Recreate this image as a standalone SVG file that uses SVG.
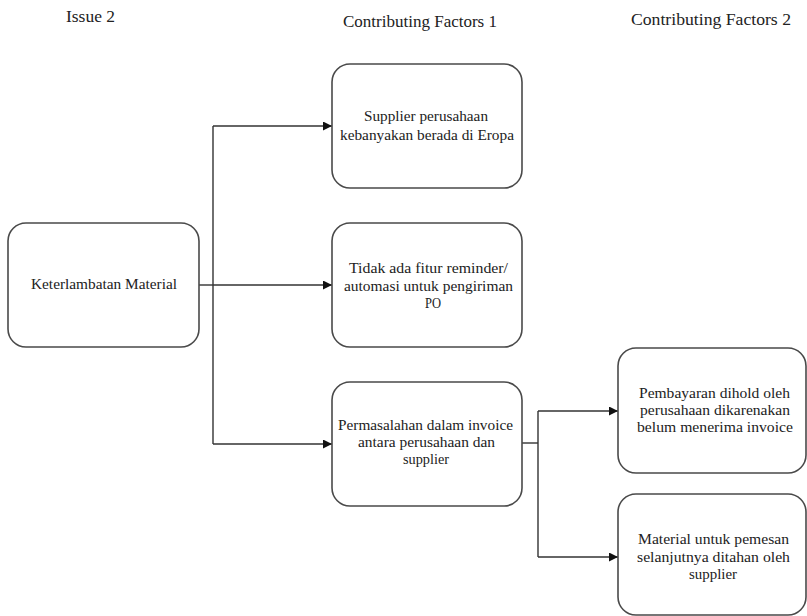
<svg xmlns="http://www.w3.org/2000/svg" width="807" height="616" viewBox="0 0 807 616">
  <style>
    .box { fill: #ffffff; stroke: #4a4a4a; stroke-width: 1.6; }
    .wire { fill: none; stroke: #333333; stroke-width: 1.4; }
    text { fill: #222222; text-anchor: middle; }
  </style>
  <defs>
    <marker id="arrow" viewBox="0 0 10 10" refX="10" refY="5" markerWidth="9" markerHeight="9" markerUnits="userSpaceOnUse" orient="auto">
      <path d="M0,0 L10,5 L0,10 z" fill="#111111"/>
    </marker>
  </defs>
  <rect width="807" height="616" fill="#ffffff"/>

  <!-- column headers -->
  <g id="headers" font-family="'Liberation Serif', serif" font-size="16">
    <text x="90.5" y="22" textLength="49" lengthAdjust="spacingAndGlyphs">Issue 2</text>
    <text x="420" y="27" textLength="154" lengthAdjust="spacingAndGlyphs">Contributing Factors 1</text>
    <text x="711" y="25" textLength="160" lengthAdjust="spacingAndGlyphs">Contributing Factors 2</text>
  </g>

  <!-- connectors -->
  <g id="connectors">
    <path class="wire" d="M199,285 H213"/>
    <path class="wire" d="M213,126 V444"/>
    <path class="wire" marker-end="url(#arrow)" d="M213,126 H332"/>
    <path class="wire" marker-end="url(#arrow)" d="M213,285 H332"/>
    <path class="wire" marker-end="url(#arrow)" d="M213,444 H332"/>
    <path class="wire" d="M522,443 H538"/>
    <path class="wire" d="M538,411 V557"/>
    <path class="wire" marker-end="url(#arrow)" d="M538,411 H618"/>
    <path class="wire" marker-end="url(#arrow)" d="M538,557 H618"/>
  </g>

  <g id="issue" font-family="'Liberation Serif', serif" font-size="15">
    <rect class="box" x="8" y="223" width="191" height="124" rx="18"/>
    <text x="104" y="289" textLength="146" lengthAdjust="spacingAndGlyphs">Keterlambatan Material</text>
  </g>

  <g id="factor1a" font-family="'Liberation Serif', serif" font-size="15">
    <rect class="box" x="332" y="64" width="190" height="124" rx="18"/>
    <text x="426" y="121" textLength="124" lengthAdjust="spacingAndGlyphs">Supplier perusahaan</text>
    <text x="427" y="140" textLength="174" lengthAdjust="spacingAndGlyphs">kebanyakan berada di Eropa</text>
  </g>

  <g id="factor1b" font-family="'Liberation Serif', serif" font-size="15">
    <rect class="box" x="332" y="223" width="190" height="124" rx="18"/>
    <text x="428.5" y="273" textLength="159" lengthAdjust="spacingAndGlyphs">Tidak ada fitur reminder/</text>
    <text x="428.5" y="291" textLength="169" lengthAdjust="spacingAndGlyphs">automasi untuk pengiriman</text>
    <text x="433" y="308" textLength="16" lengthAdjust="spacingAndGlyphs">PO</text>
  </g>

  <g id="factor1c" font-family="'Liberation Serif', serif" font-size="15">
    <rect class="box" x="332" y="382" width="190" height="124" rx="18"/>
    <text x="425.5" y="430" textLength="175" lengthAdjust="spacingAndGlyphs">Permasalahan dalam invoice</text>
    <text x="426.5" y="447" textLength="137" lengthAdjust="spacingAndGlyphs">antara perusahaan dan</text>
    <text x="426" y="464" textLength="46" lengthAdjust="spacingAndGlyphs">supplier</text>
  </g>

  <g id="factor2a" font-family="'Liberation Serif', serif" font-size="15">
    <rect class="box" x="618" y="348" width="188" height="125" rx="18"/>
    <text x="714.5" y="398" textLength="151" lengthAdjust="spacingAndGlyphs">Pembayaran dihold oleh</text>
    <text x="715" y="415" textLength="150" lengthAdjust="spacingAndGlyphs">perusahaan dikarenakan</text>
    <text x="715" y="432" textLength="156" lengthAdjust="spacingAndGlyphs">belum menerima invoice</text>
  </g>

  <g id="factor2b" font-family="'Liberation Serif', serif" font-size="15">
    <rect class="box" x="618" y="494" width="188" height="121" rx="18"/>
    <text x="713.5" y="544" textLength="151" lengthAdjust="spacingAndGlyphs">Material untuk pemesan</text>
    <text x="713.5" y="562" textLength="153" lengthAdjust="spacingAndGlyphs">selanjutnya ditahan oleh</text>
    <text x="713" y="579" textLength="48" lengthAdjust="spacingAndGlyphs">supplier</text>
  </g>
</svg>
